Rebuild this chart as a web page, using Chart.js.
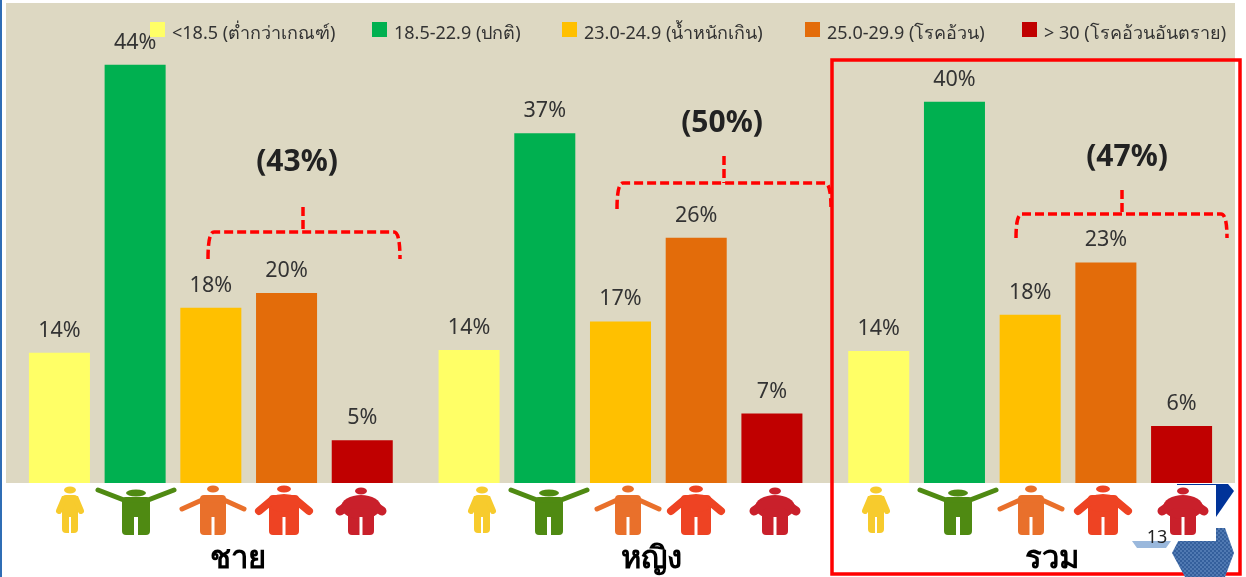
<!DOCTYPE html>
<html>
<head>
<meta charset="utf-8">
<style>
  html, body { margin: 0; padding: 0; background: #fff; overflow: hidden; }
  #bmiChart { display: block; }
</style>
<script src="https://cdn.jsdelivr.net/npm/chart.js@4/dist/chart.umd.min.js"></script>
</head>
<body>
<canvas id="bmiChart" width="1246" height="577"></canvas>
<script>
// Data
const groups = ["ชาย", "หญิง", "รวม"];
const bmiLabels = ["<18.5 (ต่ำกว่าเกณฑ์)", "18.5-22.9 (ปกติ)", "23.0-24.9 (น้ำหนักเกิน)", "25.0-29.9 (โรคอ้วน)", "> 30 (โรคอ้วนอันตราย)"];
const under = [13.7, 14.0, 13.9];
const normal = [44.0, 36.8, 40.1];
const over = [18.45, 17.0, 17.7];
const obese = [20.0, 25.8, 23.2];
const danger = [4.5, 7.3, 6.0];
const riskTotals = ["(43%)", "(50%)", "(47%)"];
const pageNumber = "13";

const barColors = ["#FFFF66", "#00B050", "#FFC000", "#E36C0A", "#C00000"];
const iconColors = ["#F7CB2D", "#4F8A12", "#E9702B", "#EE4323", "#C9202B"];
const fontName = '"Noto Sans", sans-serif';

// Legend swatch positions
const legendX = [150, 372, 562, 805, 1022];

// Red dashed brackets: left, right, top, foot, stem x, stem top
const brackets = [
    { l: 208, r: 400, top: 232, foot: 259, stem: 303, stemTop: 207, textX: 297, textY: 162 },
    { l: 617, r: 831, top: 183, foot: 209, stem: 724, stemTop: 156, textX: 722, textY: 123 },
    { l: 1016, r: 1227, top: 214, foot: 238, stem: 1122, stemTop: 190, textX: 1127, textY: 157 }
];

// Figure centres under the bars, one row per group
const iconX = [
    [70, 136, 213, 284, 361],
    [482, 549, 628, 696, 775],
    [876, 958, 1031, 1103, 1183]
];
const groupLabelX = [238, 651, 1052];

// Figure shapes, thin to heavy
const figures = [
    { headY: 490, rx: 6, ry: 3.5, armY: 499, armX: 11, armEnd: 511, armW: 6, w: 8, top: 495, bottom: 533, gap: 2 },
    { headY: 493, rx: 10, ry: 3.5, armY: 500, armX: 38, armEnd: 490, armW: 5, w: 14, top: 497, bottom: 535, gap: 4 },
    { headY: 489, rx: 6, ry: 3.5, armY: 500, armX: 31, armEnd: 509, armW: 5, w: 13, top: 495, bottom: 535, gap: 3 },
    { headY: 489, rx: 7, ry: 3.5, armY: 501, armX: 25, armEnd: 511, armW: 8, w: 15, top: 495, bottom: 535, gap: 3, blob: [503, 18, 9] },
    { headY: 491, rx: 6, ry: 3.5, armY: 504, armX: 21, armEnd: 511, armW: 9, w: 13, top: 500, bottom: 535, gap: 3, blob: [507, 20, 12] }
];

function drawFigure(ctx, cx, f, color) {
    ctx.fillStyle = color;
    ctx.strokeStyle = color;
    ctx.lineCap = "round";
    ctx.beginPath();
    ctx.ellipse(cx, f.headY, f.rx, f.ry, 0, 0, Math.PI * 2);
    ctx.fill();
    ctx.beginPath();
    ctx.roundRect(cx - f.w, f.top, f.w * 2, f.bottom - f.top, 4);
    ctx.fill();
    if (f.blob) {
        ctx.beginPath();
        ctx.ellipse(cx, f.blob[0], f.blob[1], f.blob[2], 0, 0, Math.PI * 2);
        ctx.fill();
    }
    ctx.lineWidth = f.armW;
    ctx.beginPath();
    ctx.moveTo(cx - f.armX, f.armEnd);
    ctx.lineTo(cx - f.w + 2, f.armY);
    ctx.lineTo(cx + f.w - 2, f.armY);
    ctx.lineTo(cx + f.armX, f.armEnd);
    ctx.stroke();
    // split the legs
    ctx.fillStyle = "#fff";
    ctx.fillRect(cx - f.gap / 2, 517, f.gap, 20);
}

function polygon(ctx, points, fill) {
    ctx.fillStyle = fill;
    ctx.beginPath();
    points.forEach((p, i) => i ? ctx.lineTo(p[0], p[1]) : ctx.moveTo(p[0], p[1]));
    ctx.closePath();
    ctx.fill();
}

// Stippled fill of the hexagon
function stipple(ctx) {
    const tile = document.createElement("canvas");
    tile.width = 4;
    tile.height = 4;
    const t = tile.getContext("2d");
    t.fillStyle = "#5079B2";
    t.fillRect(0, 0, 4, 4);
    t.fillStyle = "#345F9C";
    t.fillRect(0, 0, 2, 2);
    t.fillRect(2, 2, 2, 2);
    return ctx.createPattern(tile, "repeat");
}

const backdrop = {
    id: "backdrop",
    beforeDatasetsDraw(chart) {
        const { ctx, chartArea: a } = chart;
        ctx.save();
        ctx.fillStyle = "#2F6DB5";
        ctx.fillRect(0, 0, 2, 577);
        ctx.fillStyle = "#DDD8C2";
        ctx.fillRect(a.left, a.top, a.right - a.left, a.bottom - a.top);
        ctx.restore();
    }
};

const decorations = {
    id: "decorations",
    afterDatasetsDraw(chart) {
        const ctx = chart.ctx;
        ctx.save();

        // value labels above the bars
        ctx.textAlign = "center";
        ctx.textBaseline = "alphabetic";
        ctx.font = "21.5px " + fontName;
        ctx.fillStyle = "#333";
        chart.data.datasets.forEach((ds, i) => {
            chart.getDatasetMeta(i).data.forEach((bar, j) => {
                ctx.fillText(Math.round(ds.data[j]) + "%", bar.x, bar.y - 16);
            });
        });

        // legend
        ctx.textAlign = "left";
        ctx.font = "18px " + fontName;
        bmiLabels.forEach((label, i) => {
            ctx.fillStyle = barColors[i];
            ctx.fillRect(legendX[i], 22, 15, 15);
            ctx.fillStyle = "#333";
            ctx.fillText(label, legendX[i] + 22, 39);
        });

        // red frame round the totals
        ctx.strokeStyle = "#FF0000";
        ctx.lineWidth = 3.5;
        ctx.strokeRect(832, 60, 408, 514);

        // bottom right slide furniture, partly hidden by the figure picture
        polygon(ctx, [[1177, 484], [1228, 484], [1234, 491], [1216, 517], [1177, 517]], "#003399");
        polygon(ctx, [[1172, 553], [1185, 528], [1225, 528], [1234, 553], [1225, 577], [1185, 577]], stipple(ctx));
        polygon(ctx, [[1132, 541], [1171, 541], [1166, 548], [1137, 548]], "#9AB8DC");
        ctx.fillStyle = "#fff";
        ctx.fillRect(1132, 485, 84, 56);

        // figures
        ctx.filter = "blur(0.6px)";
        iconX.forEach(row => row.forEach((x, i) => drawFigure(ctx, x, figures[i], iconColors[i])));
        ctx.filter = "none";

        // page number
        ctx.textAlign = "center";
        ctx.font = "18px " + fontName;
        ctx.fillStyle = "#222";
        ctx.fillText(pageNumber, 1157, 543);

        // group names
        ctx.font = "bold 31px " + fontName;
        ctx.fillStyle = "#000";
        groups.forEach((g, i) => ctx.fillText(g, groupLabelX[i], 568));

        // red brackets with the at-risk totals
        brackets.forEach((b, i) => {
            ctx.strokeStyle = "#FF0000";
            ctx.lineWidth = 3.5;
            ctx.lineCap = "butt";
            ctx.setLineDash([9, 4]);
            ctx.beginPath();
            ctx.moveTo(b.l, b.foot);
            ctx.quadraticCurveTo(b.l, b.top, b.l + 6, b.top);
            ctx.lineTo(b.r - 6, b.top);
            ctx.quadraticCurveTo(b.r, b.top, b.r, b.foot);
            ctx.moveTo(b.stem, b.stemTop);
            ctx.lineTo(b.stem, b.top);
            ctx.stroke();
            ctx.setLineDash([]);
            ctx.font = "bold 30px " + fontName;
            ctx.fillStyle = "#222";
            ctx.textBaseline = "middle";
            ctx.fillText(riskTotals[i], b.textX, b.textY);
            ctx.textBaseline = "alphabetic";
        });

        ctx.restore();
    }
};

const valueSeries = [under, normal, over, obese, danger];

new Chart(document.getElementById("bmiChart").getContext("2d"), {
    type: "bar",
    data: {
        labels: groups,
        datasets: bmiLabels.map((label, i) => ({
            label: label,
            data: valueSeries[i],
            backgroundColor: barColors[i],
            barPercentage: 0.806,
            categoryPercentage: 0.924
        }))
    },
    plugins: [backdrop, decorations],
    options: {
        responsive: false,
        animation: false,
        layout: { padding: { left: 6, right: 11, top: 3, bottom: 94 } },
        plugins: { legend: { display: false }, tooltip: { enabled: false } },
        scales: {
            x: { display: false },
            y: { display: false, min: 0, max: 50.5 }
        }
    }
});
</script>
</body>
</html>
